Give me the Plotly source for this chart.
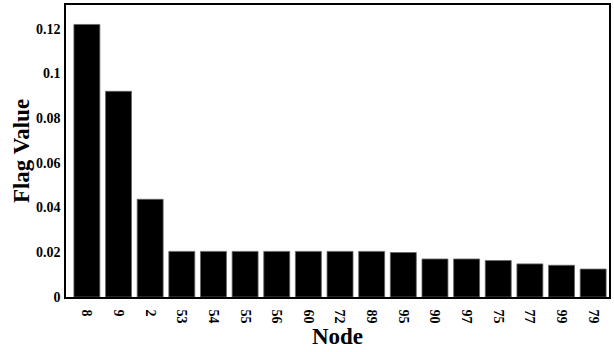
import plotly.graph_objects as go

nodes = ["8", "9", "2", "53", "54", "55", "56", "60", "72", "89", "95", "90", "97", "75", "77", "99", "79"]
flag_values = [0.1219, 0.0920, 0.0437, 0.0204, 0.0204, 0.0204, 0.0204, 0.0204, 0.0204, 0.0204,
               0.0199, 0.0170, 0.0170, 0.0163, 0.0148, 0.0142, 0.0125]

font_family = "Liberation Serif"

fig = go.Figure(go.Bar(
    x=nodes, y=flag_values,
    marker=dict(color="black", line=dict(color="#666666", width=0.8)),
))

fig.update_layout(
    width=614, height=352,
    margin=dict(l=66, r=5, t=3, b=55),
    plot_bgcolor="white", paper_bgcolor="white",
    bargap=0.18,
    showlegend=False,
    font=dict(family=font_family, color="black"),
)
fig.update_xaxes(
    type="category", range=[-0.66, 16.5],
    tickangle=90, tickfont=dict(size=14, family=font_family, weight="bold"),
    ticklabelstandoff=8,
    title=dict(text="<b>Node</b>", font=dict(size=23, family=font_family), standoff=4),
    showline=True, linecolor="black", linewidth=1.5, mirror=True,
    ticks="", showgrid=False,
)
fig.update_yaxes(
    range=[0, 0.1306], tickvals=[0, 0.02, 0.04, 0.06, 0.08, 0.1, 0.12],
    ticktext=["0", "0.02", "0.04", "0.06", "0.08", "0.1", "0.12"],
    tickfont=dict(size=14, family=font_family, weight="bold"),
    ticklabelstandoff=1,
    title=dict(text="<b>Flag Value</b>", font=dict(size=23, family=font_family), standoff=0),
    showline=True, linecolor="black", linewidth=1.5, mirror=True,
    ticks="", showgrid=False, zeroline=False,
)

fig.write_html("out.html")
